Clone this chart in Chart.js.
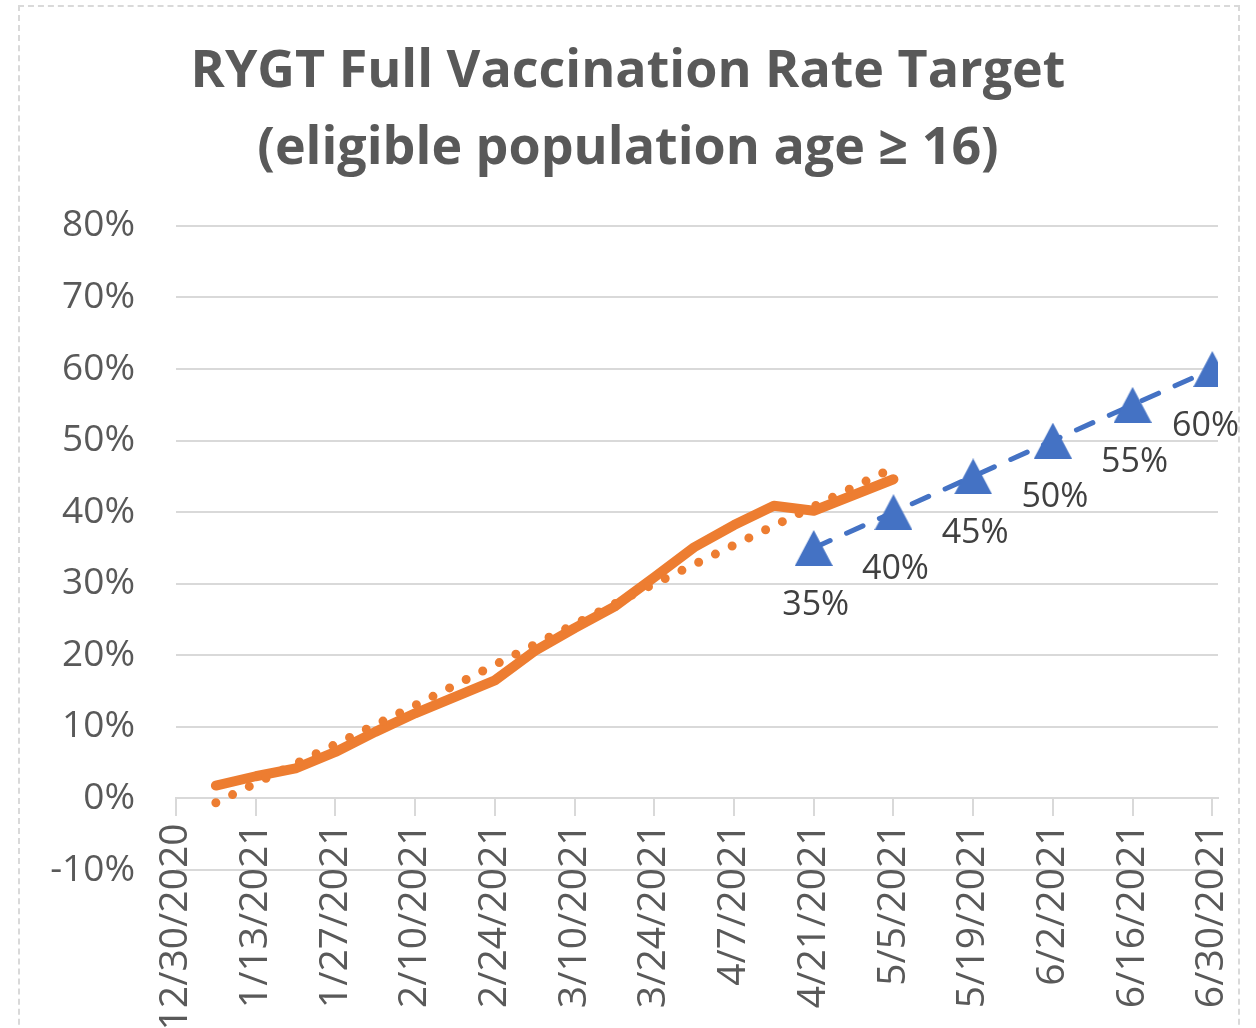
<!DOCTYPE html>
<html>
<head>
<meta charset="utf-8">
<script src="https://cdn.jsdelivr.net/npm/chart.js@4/dist/chart.umd.min.js"></script>
<style>
  html, body { margin:0; padding:0; background:#fff; }
  #wrap { position:relative; width:1256px; height:1028px; overflow:hidden; }
  #frame { position:absolute; left:18px; top:5px; width:1222px; height:1100px; border:2px dashed #d9d9d9; box-sizing:border-box; }
  #chart { position:absolute; left:0; top:0; }
</style>
</head>
<body>
<div id="wrap">
  <div id="frame"></div>
  <canvas id="chart" width="1256" height="1028"></canvas>
</div>
<script>
// ── RYGT vaccination chart ──

// x axis tick labels (every 14 days)
const tickDates = ['12/30/2020','1/13/2021','1/27/2021','2/10/2021','2/24/2021','3/10/2021','3/24/2021',
  '4/7/2021','4/21/2021','5/5/2021','5/19/2021','6/2/2021','6/16/2021','6/30/2021'];

// actual full vaccination rate (weekly)
const actualDates = ['1/6/2021','1/13/2021','1/20/2021','1/27/2021','2/3/2021','2/10/2021','2/17/2021','2/24/2021',
  '3/3/2021','3/10/2021','3/17/2021','3/24/2021','3/31/2021','4/7/2021','4/14/2021','4/21/2021','4/28/2021','5/5/2021'];
const actualRate = [1.8, 3.1, 4.2, 6.5, 9.3, 11.9, 14.2, 16.5, 20.6, 23.8, 26.8, 30.9, 35.1, 38.2, 40.9, 40.2, 42.4, 44.6];

// trendline of actual rate
const trendDates = ['1/6/2021','2/10/2021','3/24/2021','5/5/2021'];
const trendRate = [-0.6, 13.0, 30.0, 46.2];

// target rate
const targetDates = ['4/21/2021','5/5/2021','5/19/2021','6/2/2021','6/16/2021','6/30/2021'];
const targetRate = [35, 40, 45, 50, 55, 60];

const FONT = "'Open Sans', 'Noto Sans', sans-serif";
const ORANGE = '#ED7D31', BLUE = '#4472C4', GRID = '#d9d9d9', TEXT = '#595959';

const dayOf = s => {
  const [m, d, y] = s.split('/').map(Number);
  return (Date.UTC(y, m - 1, d) - Date.UTC(2020, 11, 30)) / 86400000;
};
const pts = (dates, vals) => dates.map((d, i) => ({ x: dayOf(d), y: vals[i] }));
const tickDays = tickDates.map(dayOf);

// triangle marker, drawn centred in its box like the spreadsheet marker
const tri = document.createElement('canvas');
tri.width = 38; tri.height = 36;
(function() {
  const c = tri.getContext('2d');
  c.fillStyle = BLUE;
  c.beginPath(); c.moveTo(0, 36); c.lineTo(19, 0); c.lineTo(38, 36); c.closePath(); c.fill();
})();

// data labels under the target markers
const targetLabels = {
  id: 'targetLabels',
  afterDatasetsDraw(chart) {
    const meta = chart.getDatasetMeta(2);
    const ctx = chart.ctx;
    ctx.save();
    ctx.font = '34px ' + FONT;
    ctx.fillStyle = '#404040';
    ctx.textAlign = 'center';
    ctx.textBaseline = 'middle';
    meta.data.forEach((el, i) => {
      const txt = targetRate[i] + '%';
      const w = ctx.measureText(txt).width;
      const x = Math.min(el.x + 2, chart.width - 17 - w / 2);
      ctx.fillText(txt, x, el.y + 57);
    });
    ctx.restore();
  }
};

new Chart(document.getElementById('chart'), {
  type: 'line',
  data: {
    datasets: [
      { label: 'Actual', data: pts(actualDates, actualRate), borderColor: ORANGE, borderWidth: 10,
        borderCapStyle: 'round', borderJoinStyle: 'round', pointRadius: 0, order: 3 },
      { label: 'Trend', data: pts(trendDates, trendRate), borderColor: ORANGE, borderWidth: 9,
        borderDash: [0, 18.6], borderCapStyle: 'round', pointRadius: 0, order: 2 },
      { label: 'Target', data: pts(targetDates, targetRate), borderColor: BLUE, borderWidth: 5,
        borderDash: [18, 18], borderCapStyle: 'round', pointStyle: tri, pointRadius: 19, order: 1 }
    ]
  },
  options: {
    responsive: false,
    animation: false,
    layout: { padding: { left: 38, right: 38, top: 0, bottom: 158 } },
    plugins: {
      legend: { display: false },
      tooltip: { enabled: false },
      title: {
        display: true,
        text: ['RYGT Full Vaccination Rate Target', '(eligible population age \u2265 16)'],
        color: TEXT,
        font: { family: FONT, size: 52, weight: 'bold', lineHeight: 1.48 },
        padding: { top: 34, bottom: 38 }
      }
    },
    scales: {
      x: {
        type: 'linear',
        min: 0, max: 183,
        position: { y: 0 },
        afterBuildTicks: s => { s.ticks = tickDays.map(v => ({ value: v })); },
        afterFit: s => { s.paddingLeft = 0; s.paddingRight = 0; },
        grid: { drawOnChartArea: false, drawTicks: true, tickLength: 17, color: GRID, lineWidth: 2 },
        border: { display: true, color: GRID, width: 2 },
        ticks: {
          minRotation: 90, maxRotation: 90, autoSkip: false, padding: 8,
          color: TEXT, font: { family: FONT, size: 39 },
          callback: v => tickDates[tickDays.indexOf(v)] || ''
        }
      },
      y: {
        min: -10, max: 80,
        afterFit: s => { s.width = 138; },
        border: { display: false },
        grid: { color: GRID, lineWidth: 2, drawTicks: false },
        ticks: { stepSize: 10, padding: 41, color: TEXT, font: { family: FONT, size: 37 }, callback: v => v + '%' }
      }
    }
  },
  plugins: [targetLabels]
});
</script>
</body>
</html>
